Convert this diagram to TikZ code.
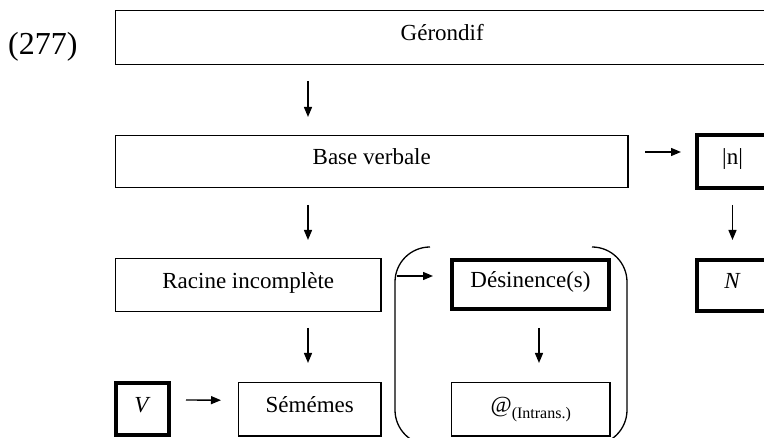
\documentclass[tikz,border=0pt]{standalone}
\usepackage{fontspec}
\setmainfont{Liberation Serif}
\usetikzlibrary{arrows.meta,calc}
\tikzset{
  box/.style={draw, line width=1.3pt, anchor=north west, inner sep=0pt, outer sep=0pt,
    text height=15pt, text depth=8pt, font=\fontsize{23pt}{27pt}\selectfont},
  thickbox/.style={box, line width=4pt},
  arr/.style={line width=1.3pt, -{Triangle[length=10pt,width=8pt]}},
  paren/.style={line width=1.3pt, rounded corners=35pt},
}
\begin{document}
\begin{tikzpicture}[x=1pt,y=-1pt]
\useasboundingbox (0,0) rectangle (764,438);
\clip (0,0) rectangle (764,438);
\node[anchor=base west, inner sep=0pt, font=\fontsize{32pt}{36pt}\selectfont] (num) at (8,55) {(277)};
% boxes
\node[box, minimum width=653.5pt, minimum height=54pt] (ger) at (115.5,10.5) {Gérondif};
\node[box, minimum width=512.5pt, minimum height=52pt] (base) at (115.5,135.5) {Base verbale};
\node[thickbox, minimum width=71pt, minimum height=53pt] (n) at (697,135) {|n|};
\node[thickbox, minimum width=71pt, minimum height=51pt] (N) at (697,260) {\textit{N}};
\node[box, minimum width=265.5pt, minimum height=53pt] (rac) at (115.5,258.5) {Racine incomplète};
\node[thickbox, minimum width=157pt, minimum height=49pt] (des) at (452,260) {Désinence(s)};
\node[box, minimum width=142.5pt, minimum height=53.5pt] (sem) at (238.5,382.5) {Sémémes};
\node[thickbox, minimum width=53pt, minimum height=52pt] (V) at (116,383) {\textit{V}};
\node[box, minimum width=158.5pt, minimum height=53.5pt] (at) at (451.5,382.5)
  {@\raisebox{-6pt}{\fontsize{16pt}{18pt}\selectfont (Intrans.)}};
% bracket
\draw[paren] (430,247) -- (395,247) -- (395,445) -- (430,445);
\draw[paren] (592,247) -- (627,247) -- (627,445) -- (592,445);
% x positions for arrows
\coordinate (xa) at (308,0);
\coordinate (xd) at (539,0);
\coordinate (brk) at (397,276);
% arrows
\draw[arr, shorten <=16.5pt, shorten >=18.5pt] (ger.south -| xa) -- (base.north -| xa);
\draw[arr, shorten <=17.5pt, shorten >=18.5pt] (base.south -| xa) -- (rac.north -| xa);
\draw[arr, shorten <=16.5pt, shorten >=19.5pt] (rac.south -| xa) -- (sem.north -| xa);
\draw[arr, shorten <=17pt, shorten >=16pt] ([yshift=9.5pt]base.east) -- ([yshift=9.5pt]n.west);
\draw[arr, shorten <=17pt, shorten >=20pt] (n.south) -- (N.north);
\draw[arr, shorten >=19pt] (brk) -- (brk -| des.west);
\draw[arr, shorten <=19pt, shorten >=19.5pt] (des.south -| xd) -- (at.north -| xd);
\draw[arr, shorten <=17pt, shorten >=17.5pt] ([yshift=9pt]V.east) -- ([yshift=9pt]sem.west);
\end{tikzpicture}
\end{document}
